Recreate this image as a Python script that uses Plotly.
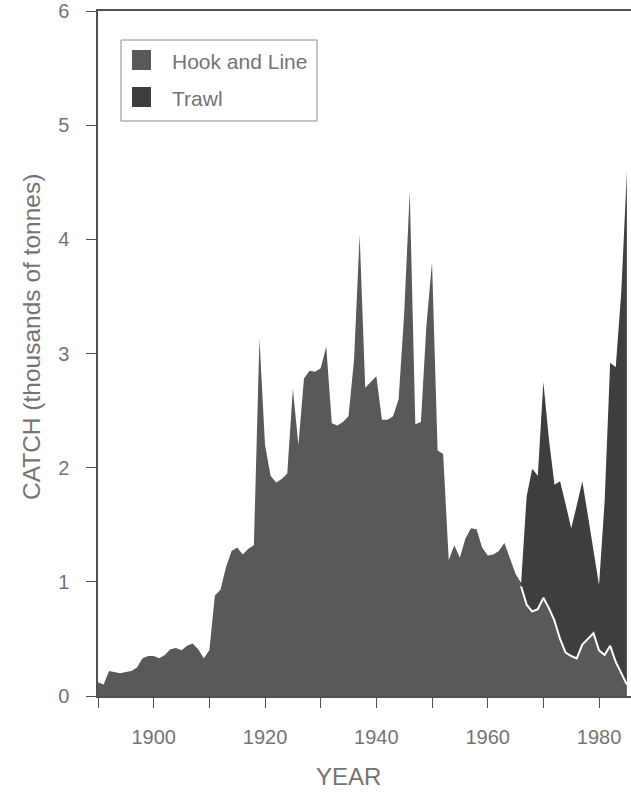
import numpy as np
import plotly.graph_objects as go

# Annual catch, thousands of tonnes
years = list(range(1890, 1986))

hook_and_line = [
    0.12, 0.10, 0.22, 0.21, 0.20, 0.21, 0.22, 0.25, 0.33, 0.35,   # 1890-1899
    0.35, 0.33, 0.36, 0.41, 0.42, 0.40, 0.44, 0.46, 0.41, 0.33,   # 1900-1909
    0.40, 0.88, 0.93, 1.13, 1.27, 1.30, 1.24, 1.29, 1.32, 3.13,   # 1910-1919
    2.20, 1.93, 1.87, 1.90, 1.95, 2.69, 2.20, 2.78, 2.85, 2.84,   # 1920-1929
    2.87, 3.06, 2.39, 2.37, 2.40, 2.45, 2.95, 4.04, 2.70, 2.75,   # 1930-1939
    2.80, 2.42, 2.42, 2.45, 2.60, 3.35, 4.42, 2.38, 2.40, 3.25,   # 1940-1949
    3.80, 2.15, 2.12, 1.19, 1.32, 1.21, 1.38, 1.47, 1.46, 1.30,   # 1950-1959
    1.23, 1.24, 1.27, 1.34, 1.20, 1.07, 0.96, 0.80, 0.74, 0.76,   # 1960-1969
    0.86, 0.77, 0.66, 0.50, 0.38, 0.35, 0.33, 0.45, 0.50, 0.55,   # 1970-1979
    0.40, 0.36, 0.44, 0.30, 0.20, 0.10,                           # 1980-1985
]

trawl = [0.0] * 76 + [                                            # 1890-1965
    0.03, 0.95, 1.25, 1.17,                                       # 1966-1969
    1.89, 1.48, 1.19, 1.38, 1.30, 1.12, 1.34, 1.43, 1.08, 0.72,   # 1970-1979
    0.57, 1.34, 2.48, 2.58, 3.34, 4.49,                           # 1980-1985
]

series_names = ["Hook and Line", "Trawl"]
x_tick_years = [1900, 1920, 1940, 1960, 1980]
y_ticks = [0, 1, 2, 3, 4, 5, 6]

HOOK_COLOR = "#595959"
TRAWL_COLOR = "#3e3e3e"
TEXT_COLOR = "#747474"
AXIS_COLOR = "#505050"
FONT = "Liberation Sans, Arial, sans-serif"

W, H = 631, 795
L, R, T, B = 98, 0, 11, 99

fig = go.Figure()

fig.add_trace(go.Scatter(
    x=years, y=hook_and_line, name=series_names[0],
    stackgroup="catch", mode="lines", line=dict(width=0),
    fillcolor=HOOK_COLOR, showlegend=False, hoverinfo="skip",
))
fig.add_trace(go.Scatter(
    x=years, y=trawl, name=series_names[1],
    stackgroup="catch", mode="lines", line=dict(width=0),
    fillcolor=TRAWL_COLOR, showlegend=False, hoverinfo="skip",
))

# White boundary between the two gears where trawl catch is recorded
yr = np.array(years)
hl = np.array(hook_and_line)
tw = np.array(trawl)
mask = tw > 0
fig.add_trace(go.Scatter(
    x=yr[mask], y=hl[mask], mode="lines",
    line=dict(color="white", width=2), showlegend=False, hoverinfo="skip",
))

x_min = 1890
x_max = 1890 + (W - L) / 5.567

fig.update_layout(
    width=W, height=H,
    margin=dict(l=L, r=R, t=T, b=B, pad=0),
    paper_bgcolor="white", plot_bgcolor="white",
    font=dict(family=FONT, size=20, color=TEXT_COLOR),
    xaxis=dict(
        range=[x_min, x_max], showgrid=False, zeroline=False,
        showline=True, linecolor=AXIS_COLOR, linewidth=1.5, mirror=True,
        tickmode="array", tickvals=x_tick_years,
        ticktext=[str(v) for v in x_tick_years],
        ticks="outside", ticklen=10, tickwidth=1.2, tickcolor=AXIS_COLOR,
        minor=dict(dtick=10, tick0=1890, ticks="outside", ticklen=10,
                   tickwidth=1.2, tickcolor=AXIS_COLOR),
        ticklabelstandoff=12,
        tickfont=dict(size=20, color=TEXT_COLOR),
    ),
    yaxis=dict(
        range=[0, 6], showgrid=False, zeroline=False,
        showline=True, linecolor=AXIS_COLOR, linewidth=1.5,
        tickmode="array", tickvals=y_ticks,
        ticks="outside", ticklen=10, tickwidth=1.2, tickcolor=AXIS_COLOR,
        ticklabelstandoff=13, ticklabeloverflow="allow",
        tickfont=dict(size=20, color=TEXT_COLOR),
    ),
    showlegend=False,
)

pw, ph = W - L - R, H - T - B
def px(xp):
    return (xp - L) / pw
def py(yp):
    return (H - B - yp) / ph

# Axis titles
fig.add_annotation(
    text="YEAR", xref="paper", yref="paper",
    x=px(348), y=py(776), xanchor="center", yanchor="middle",
    showarrow=False, font=dict(size=24, color=TEXT_COLOR),
)
fig.add_annotation(
    text="CATCH (thousands of tonnes)", xref="paper", yref="paper",
    x=px(31), y=py(337), xanchor="center", yanchor="middle", textangle=-90,
    showarrow=False, font=dict(size=24.5, color=TEXT_COLOR),
)

# Legend box
fig.add_shape(type="rect", xref="paper", yref="paper",
              x0=px(121), x1=px(317), y0=py(121), y1=py(40),
              line=dict(color="#8a8a8a", width=1), fillcolor="white", layer="above")

legend_rows = [(series_names[0], HOOK_COLOR, 60), (series_names[1], TRAWL_COLOR, 97)]
for name, color, cy in legend_rows:
    fig.add_shape(type="rect", xref="paper", yref="paper",
                  x0=px(132), x1=px(151), y0=py(cy + 10), y1=py(cy - 10),
                  line=dict(width=0), fillcolor=color, layer="above")
    fig.add_annotation(text=name, xref="paper", yref="paper",
                       x=px(170), y=py(cy + 2), xanchor="left", yanchor="middle",
                       showarrow=False, font=dict(size=21, color=TEXT_COLOR))

fig.write_html("out.html")
